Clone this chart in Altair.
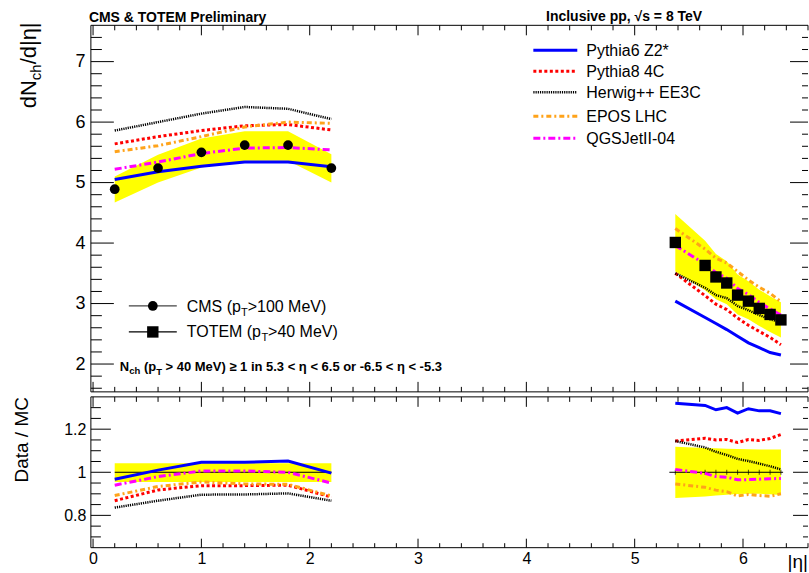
import altair as alt
import pandas as pd

FONT = "Liberation Sans"

# ---------------- data ----------------
models = ["Pythia6 Z2*", "Pythia8 4C", "Herwig++ EE3C", "EPOS LHC", "QGSJetII-04"]
model_colors = ["#0000ff", "#ff0000", "#000000", "#ffa31a", "#ff00ff"]
model_dashes = [None, [3, 2.5], [1.2, 1], [5, 3, 2, 3], [7, 3, 2, 3]]
model_widths = [3, 3, 2.5, 3, 3]

cms_eta = [0.2, 0.6, 1.0, 1.4, 1.8, 2.2]
cms_val = [4.89, 5.24, 5.50, 5.62, 5.62, 5.24]
cms_band_hi = [5.10, 5.46, 5.73, 5.85, 5.85, 5.47]
cms_band_lo = [4.67, 5.00, 5.25, 5.36, 5.36, 5.00]
cms_ratio_hi = [1.042, 1.042, 1.042, 1.042, 1.042, 1.042]
cms_ratio_lo = [0.955, 0.955, 0.955, 0.955, 0.955, 0.955]

totem_eta = [5.375, 5.65, 5.75, 5.85, 5.95, 6.05, 6.15, 6.25, 6.35]
totem_val = [4.01, 3.63, 3.44, 3.34, 3.14, 3.04, 2.92, 2.82, 2.73]
totem_band_hi = [4.48, 4.04, 3.82, 3.70, 3.48, 3.37, 3.23, 3.12, 3.02]
totem_band_lo = [3.53, 3.22, 3.07, 2.99, 2.82, 2.74, 2.63, 2.53, 2.44]
totem_ratio_hi = [1.118, 1.113, 1.111, 1.109, 1.108, 1.107, 1.106, 1.106, 1.106]
totem_ratio_lo = [0.880, 0.888, 0.892, 0.896, 0.899, 0.900, 0.900, 0.898, 0.895]

# MC predictions, CMS region
p6_cms = [5.05, 5.18, 5.27, 5.34, 5.34, 5.26]
p8_cms = [5.64, 5.76, 5.86, 5.94, 5.96, 5.87]
hw_cms = [5.86, 6.00, 6.14, 6.25, 6.22, 6.05]
epos_cms = [5.51, 5.61, 5.76, 5.92, 6.00, 5.98]
qgs_cms = [5.22, 5.34, 5.48, 5.57, 5.58, 5.54]
# MC predictions, TOTEM region
p6_tot = [3.04, 2.77, 2.67, 2.57, 2.46, 2.35, 2.27, 2.19, 2.15]
p8_tot = [3.50, 3.13, 2.99, 2.90, 2.76, 2.64, 2.54, 2.44, 2.32]
hw_tot = [3.50, 3.26, 3.14, 3.09, 2.96, 2.89, 2.81, 2.74, 2.69]
epos_tot = [4.24, 3.90, 3.75, 3.67, 3.53, 3.39, 3.27, 3.17, 3.03]
qgs_tot = [3.96, 3.65, 3.51, 3.42, 3.25, 3.15, 3.02, 2.91, 2.81]
# Data / MC, CMS region
r_p6_cms = [0.968, 1.010, 1.046, 1.046, 1.052, 0.996]
r_p8_cms = [0.868, 0.918, 0.938, 0.938, 0.940, 0.885]
r_hw_cms = [0.836, 0.868, 0.896, 0.897, 0.902, 0.868]
r_epos_cms = [0.892, 0.934, 0.955, 0.946, 0.944, 0.890]
r_qgs_cms = [0.940, 0.980, 1.006, 1.006, 1.000, 0.950]
# Data / MC, TOTEM region
r_p6_tot = [1.320, 1.310, 1.290, 1.300, 1.275, 1.295, 1.285, 1.285, 1.272]
r_p8_tot = [1.145, 1.158, 1.150, 1.152, 1.138, 1.152, 1.148, 1.157, 1.175]
r_hw_tot = [1.145, 1.115, 1.095, 1.080, 1.062, 1.052, 1.040, 1.028, 1.013]
r_epos_tot = [0.946, 0.930, 0.917, 0.910, 0.890, 0.897, 0.892, 0.889, 0.900]
r_qgs_tot = [1.013, 0.995, 0.980, 0.977, 0.965, 0.966, 0.968, 0.970, 0.971]

unity_start = [0.2, 5.32]
unity_end = [2.2, 6.37]

x_labels = [0, 1, 2, 3, 4, 5, 6]
y_top_labels = [2, 3, 4, 5, 6, 7]
y_bot_labels = [0.8, 1.0, 1.2]

# ---------------- layout ----------------
W, H1, H2 = 718, 367, 151
X_DOMAIN = [-0.02, 6.60]
Y1_DOMAIN = [1.54, 7.6]
Y2_DOMAIN = [0.65, 1.35]

xs = alt.Scale(domain=X_DOMAIN, nice=False, zero=False)
y1s = alt.Scale(domain=Y1_DOMAIN, nice=False, zero=False)
y2s = alt.Scale(domain=Y2_DOMAIN, nice=False, zero=False)


def make_axis(values, size, pad):
    return alt.Axis(values=values, ticks=False, domain=False, grid=False, title=None,
                    labelFont=FONT, labelFontSize=size, labelColor="black",
                    labelPadding=pad, labelFlush=False, format="~g")


AX_X_BOT = make_axis(x_labels, 16, 3)
AX_Y_TOP = make_axis(y_top_labels, 18, 6)
AX_Y_BOT = make_axis(y_bot_labels, 16, 5)


def X_TOP(f="eta:Q"):
    return alt.X(f, scale=xs, axis=None)


def X_BOT(f="eta:Q"):
    return alt.X(f, scale=xs, axis=AX_X_BOT)


def Y_TOP(f):
    return alt.Y(f, scale=y1s, axis=AX_Y_TOP)


def Y_BOT(f):
    return alt.Y(f, scale=y2s, axis=AX_Y_BOT)


# ---------------- tables ----------------
mc_cms = [p6_cms, p8_cms, hw_cms, epos_cms, qgs_cms]
mc_tot = [p6_tot, p8_tot, hw_tot, epos_tot, qgs_tot]
r_cms = [r_p6_cms, r_p8_cms, r_hw_cms, r_epos_cms, r_qgs_cms]
r_tot = [r_p6_tot, r_p8_tot, r_hw_tot, r_epos_tot, r_qgs_tot]

rows = []
for i, m in enumerate(models):
    for e, v, r in zip(cms_eta, mc_cms[i], r_cms[i]):
        rows.append({"model": m, "region": "CMS", "eta": e, "val": v, "ratio": r})
    for e, v, r in zip(totem_eta, mc_tot[i], r_tot[i]):
        rows.append({"model": m, "region": "TOTEM", "eta": e, "val": v, "ratio": r})
mc_df = pd.DataFrame(rows)

band_df = pd.concat([
    pd.DataFrame({"eta": cms_eta, "lo": cms_band_lo, "hi": cms_band_hi,
                  "rlo": cms_ratio_lo, "rhi": cms_ratio_hi, "region": "CMS"}),
    pd.DataFrame({"eta": totem_eta, "lo": totem_band_lo, "hi": totem_band_hi,
                  "rlo": totem_ratio_lo, "rhi": totem_ratio_hi, "region": "TOTEM"}),
])
cms_df = pd.DataFrame({"eta": cms_eta, "val": cms_val})
tot_df = pd.DataFrame({"eta": totem_eta, "val": totem_val, "one": [1.0] * len(totem_eta)})
unity_df = pd.DataFrame({"eta": unity_start, "eta2": unity_end, "one": [1.0, 1.0]})
dummy = pd.DataFrame({"k": [0]})


def txt(s, x, y, size, align="left", weight="normal", angle=0, baseline="alphabetic"):
    return alt.Chart(dummy).mark_text(text=s, font=FONT, fontSize=size, align=align,
                                      baseline=baseline, fontWeight=weight, angle=angle,
                                      color="black").encode(x=alt.value(x), y=alt.value(y))


def mc_lines(xenc, yenc):
    out = []
    for i, m in enumerate(models):
        kw = dict(color=model_colors[i], strokeWidth=model_widths[i])
        if model_dashes[i] is not None:
            kw["strokeDash"] = model_dashes[i]
        out.append(alt.Chart(mc_df[mc_df.model == m]).mark_line(**kw).encode(
            x=xenc, y=yenc, detail="region:N"))
    return out


def frame_and_ticks(xfun, yfun, H, ymaj, ymin, ylen, xtop_len, xbot_len):
    x_minor = [round(0.2 * k, 2) for k in range(1, 34) if k % 5 != 0]
    lay = []
    # frame (left, top, bottom)
    lay.append(alt.Chart(dummy).mark_rule(color="black", strokeWidth=1).encode(
        x=alt.value(0), y=alt.value(0), y2=alt.value(H)))
    lay.append(alt.Chart(dummy).mark_rule(color="black", strokeWidth=1).encode(
        x=alt.value(0), x2=alt.value(W), y=alt.value(0)))
    lay.append(alt.Chart(dummy).mark_rule(color="black", strokeWidth=1).encode(
        x=alt.value(0), x2=alt.value(W), y=alt.value(H)))
    for vals, L in [(ymaj, ylen[0]), (ymin, ylen[1])]:
        d = pd.DataFrame({"t": vals})
        lay.append(alt.Chart(d).mark_rule(color="black", strokeWidth=1).encode(
            y=yfun("t:Q"), x=alt.value(0), x2=alt.value(L)))
        lay.append(alt.Chart(d).mark_rule(color="black", strokeWidth=1).encode(
            y=yfun("t:Q"), x=alt.value(W), x2=alt.value(W - L + 5)))
    for vals, Lt, Lb in [(x_labels, xtop_len[0], xbot_len[0]), (x_minor, xtop_len[1], xbot_len[1])]:
        d = pd.DataFrame({"t": vals})
        lay.append(alt.Chart(d).mark_rule(color="black", strokeWidth=1).encode(
            x=xfun("t:Q"), y=alt.value(0), y2=alt.value(Lt)))
        lay.append(alt.Chart(d).mark_rule(color="black", strokeWidth=1).encode(
            x=xfun("t:Q"), y=alt.value(H), y2=alt.value(H - Lb)))
    return lay


# ---------------- top panel ----------------
top_layers = []
top_layers.append(alt.Chart(band_df).mark_area(color="#ffff00", opacity=1).encode(
    x=X_TOP(), y=Y_TOP("lo:Q"), y2="hi:Q", detail="region:N"))
top_layers += mc_lines(X_TOP(), Y_TOP("val:Q"))
top_layers.append(alt.Chart(cms_df).mark_point(shape="circle", filled=True, size=95,
                                               color="black", opacity=1).encode(
    x=X_TOP(), y=Y_TOP("val:Q")))
top_layers.append(alt.Chart(tot_df).mark_point(shape="square", filled=True, size=130,
                                               color="black", opacity=1).encode(
    x=X_TOP(), y=Y_TOP("val:Q")))

y_top_minor = [round(1.6 + 0.2 * k, 2) for k in range(0, 30)]
y_top_minor = [v for v in y_top_minor if abs(v - round(v)) > 1e-6]
top_layers += frame_and_ticks(X_TOP, Y_TOP, H1, y_top_labels, y_top_minor, (23, 11), (10, 5), (10, 5))

# MC legend
leg_rows = [25, 46, 67, 91, 113]
for i, m in enumerate(models):
    kw = dict(color=model_colors[i], strokeWidth=model_widths[i])
    if model_dashes[i] is not None:
        kw["strokeDash"] = model_dashes[i]
    top_layers.append(alt.Chart(dummy).mark_rule(**kw).encode(
        x=alt.value(443), x2=alt.value(487), y=alt.value(leg_rows[i])))
    top_layers.append(txt(m, 496, leg_rows[i] + 5.6, 16))

# data legend
top_layers.append(alt.Chart(dummy).mark_rule(color="#444444", strokeWidth=1.3).encode(
    x=alt.value(38), x2=alt.value(86), y=alt.value(281)))
top_layers.append(alt.Chart(dummy).mark_point(shape="circle", filled=True, size=95,
                                              color="black", opacity=1).encode(
    x=alt.value(62), y=alt.value(281)))
top_layers.append(alt.Chart(dummy).mark_rule(color="black", strokeWidth=1.3).encode(
    x=alt.value(38), x2=alt.value(86), y=alt.value(307)))
top_layers.append(alt.Chart(dummy).mark_point(shape="square", filled=True, size=130,
                                              color="black", opacity=1).encode(
    x=alt.value(62), y=alt.value(307)))
top_layers.append(txt("CMS (p", 96, 286.7, 16))
top_layers.append(txt("T", 150.2, 290.7, 11))
top_layers.append(txt(">100 MeV)", 157, 286.7, 16))
top_layers.append(txt("TOTEM (p", 96, 312.5, 16))
top_layers.append(txt("T", 170.7, 316.5, 11))
top_layers.append(txt(">40 MeV)", 177.4, 312.5, 16))

# selection note (pieces for subscripts)
top_layers.append(txt("N", 29, 346, 13, weight="bold"))
top_layers.append(txt("ch", 38.4, 349, 9.5, weight="bold"))
top_layers.append(txt("(p", 53.1, 346, 13, weight="bold"))
top_layers.append(txt("T", 65.4, 350, 9.5, weight="bold"))
top_layers.append(txt("> 40 MeV) \u2265 1 in 5.3 < \u03b7 < 6.5 or -6.5 < \u03b7 < -5.3",
                      74.8, 346, 13, weight="bold"))

# headers
top_layers.append(txt("CMS & TOTEM Preliminary", -2, -3.5, 14, weight="bold"))
top_layers.append(txt("Inclusive pp, \u221as = 8 TeV", 612, -4, 14, align="right", weight="bold"))

# y title dN_ch/d|eta|
top_layers.append(txt("dN", -55, 83, 22, angle=270))
top_layers.append(txt("ch", -50, 54.9, 15, angle=270))
top_layers.append(txt("/d|\u03b7|", -55, 39.1, 22, angle=270))

top = alt.layer(*top_layers).properties(width=W, height=H1)

# ---------------- bottom panel ----------------
bot_layers = []
bot_layers.append(alt.Chart(band_df).mark_area(color="#ffff00", opacity=1).encode(
    x=X_BOT(), y=Y_BOT("rlo:Q"), y2="rhi:Q", detail="region:N"))
bot_layers.append(alt.Chart(unity_df).mark_rule(color="black", strokeWidth=1).encode(
    x=X_BOT(), x2="eta2:Q", y=Y_BOT("one:Q")))
bot_layers.append(alt.Chart(tot_df).mark_tick(color="black", thickness=1, size=5,
                                              orient="vertical").encode(
    x=X_BOT(), y=Y_BOT("one:Q")))
bot_layers += mc_lines(X_BOT(), Y_BOT("ratio:Q"))
y_bot_minor = [0.7, 0.75, 0.85, 0.9, 0.95, 1.05, 1.1, 1.15, 1.25, 1.3]
bot_layers += frame_and_ticks(X_BOT, Y_BOT, H2, y_bot_labels, y_bot_minor, (20, 10), (10, 5), (9, 4.5))
bot_layers.append(txt("Data / MC", -63, 43, 19, align="center", angle=270))
bot_layers.append(txt("|\u03b7|", W, 171, 19, align="right"))

bottom = alt.layer(*bot_layers).properties(width=W, height=H2)

chart = alt.vconcat(top, bottom, spacing=5, bounds="flush").configure_view(
    stroke=None).properties(padding={"left": 12, "top": 10, "right": 0, "bottom": 0})

chart.save("out.html", embed_options={"renderer": "svg", "actions": False})
